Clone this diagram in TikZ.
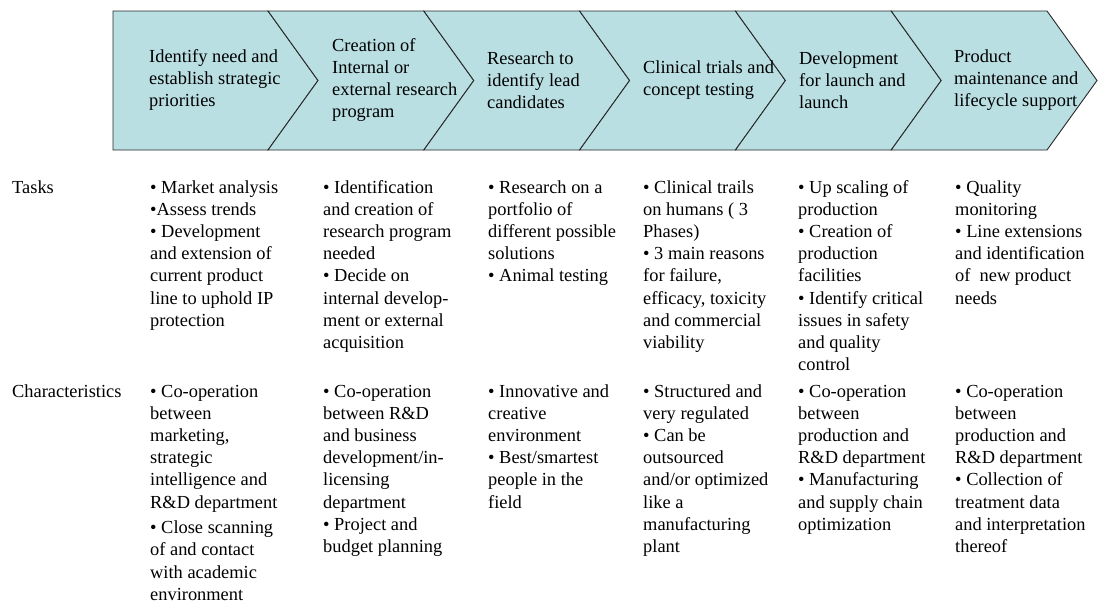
\documentclass[tikz,border=0pt]{standalone}
\usepackage{fontspec}
\setmainfont{Liberation Serif}
\definecolor{chev}{RGB}{185,223,227}
\definecolor{edge}{RGB}{40,40,40}
\newcommand{\cellbox}[1]{\parbox[t]{175pt}{\raggedright #1}}
\tikzset{
  chevshape/.style={fill=chev, draw=edge, line width=0.9pt, line join=miter},
  headtext/.style={anchor=west, align=left, inner sep=0pt},
  bodytext/.style={anchor=base west, inner sep=0pt},
}
\begin{document}
\begin{tikzpicture}[x=1pt, y=-1pt, font=\fontsize{18.4}{22.2}\selectfont]
\path[use as bounding box] (0,0) rectangle (1098,605);
% chevron band
\def\T{11}\def\B{150}\def\M{80.5}\def\D{50}
\draw[chevshape] (113,\T) -- (268,\T) -- (268+\D,\M) -- (268,\B) -- (113,\B) -- cycle;
\foreach \k in {0,...,4}{
  \pgfmathsetmacro{\a}{268+155.8*\k}
  \pgfmathsetmacro{\b}{\a+155.8}
  \draw[chevshape] (\a,\T) -- (\b,\T) -- (\b+\D,\M) -- (\b,\B) -- (\a,\B) -- (\a+\D,\M) -- cycle;
}
% header texts
\node[headtext] (h1) at (149,80) {Identify need and\\establish strategic\\priorities};
\node[headtext] (h2) at (332,80) {Creation of\\Internal or\\external research\\program};
\node[headtext] (h3) at (487,80) {Research to\\identify lead\\candidates};
\node[headtext] (h4) at (643,80) {Clinical trials and\\concept testing};
\node[headtext] (h5) at (799,80) {Development\\for launch and\\launch};
\node[headtext] (h6) at (954,80) {Product\\maintenance and\\lifecycle support};
% row labels
\node[bodytext] (tasks) at (12,193) {Tasks};
\node[bodytext] (chars) at (12,397) {Characteristics};
% tasks
\node[bodytext] (t1) at (150,193) {\cellbox{• Market analysis\\•Assess trends\\• Development\\and extension of\\current product\\line to uphold IP\\protection}};
\node[bodytext] (t2) at (323,193) {\cellbox{• Identification\\and creation of\\research program\\needed\\• Decide on\\internal develop-\\ment or external\\acquisition}};
\node[bodytext] (t3) at (488,193) {\cellbox{• Research on a\\portfolio of\\different possible\\solutions\\• Animal testing}};
\node[bodytext] (t4) at (643,193) {\cellbox{• Clinical trails\\on humans ( 3\\Phases)\\• 3 main reasons\\for failure,\\efficacy, toxicity\\and commercial\\viability}};
\node[bodytext] (t5) at (798,193) {\cellbox{• Up scaling of\\production\\• Creation of\\production\\facilities\\• Identify critical\\issues in safety\\and quality\\control}};
\node[bodytext] (t6) at (955,193) {\cellbox{• Quality\\monitoring\\• Line extensions\\and identification\\of\ \ new product\\needs}};
% characteristics
\node[bodytext] (c1) at (150,397) {\cellbox{• Co-operation\\between\\marketing,\\strategic\\intelligence and\\R\&D department\\[3.5pt]• Close scanning\\of and contact\\with academic\\environment}};
\node[bodytext] (c2) at (323,397) {\cellbox{• Co-operation\\between R\&D\\and business\\development/in-\\licensing\\department\\• Project and\\budget planning}};
\node[bodytext] (c3) at (488,397) {\cellbox{• Innovative and\\creative\\environment\\• Best/smartest\\people in the\\field}};
\node[bodytext] (c4) at (643,397) {\cellbox{• Structured and\\very regulated\\• Can be\\outsourced\\and/or optimized\\like a\\manufacturing\\plant}};
\node[bodytext] (c5) at (798,397) {\cellbox{• Co-operation\\between\\production and\\R\&D department\\• Manufacturing\\and supply chain\\optimization}};
\node[bodytext] (c6) at (955,397) {\cellbox{• Co-operation\\between\\production and\\R\&D department\\• Collection of\\treatment data\\and interpretation\\thereof}};
\end{tikzpicture}
\end{document}
